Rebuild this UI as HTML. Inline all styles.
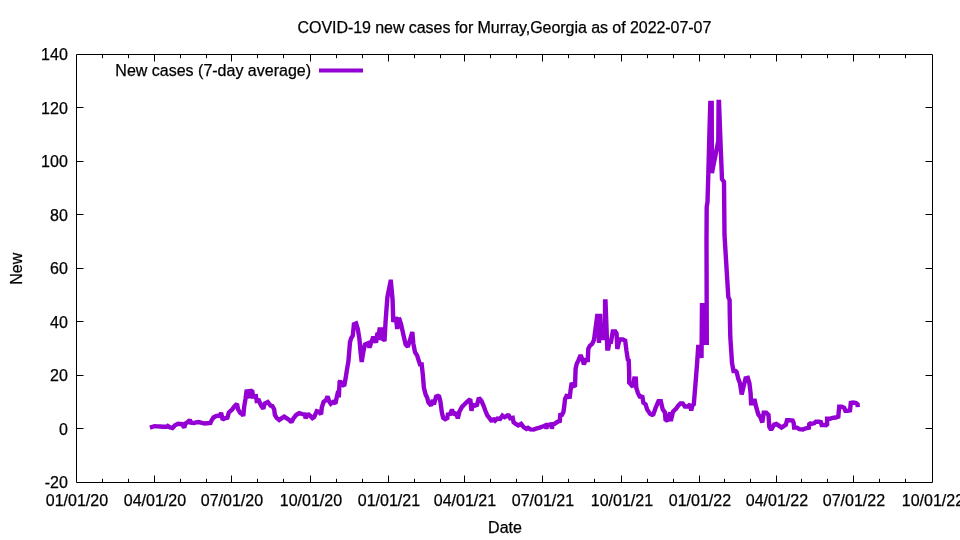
<!DOCTYPE html>
<html><head><meta charset="utf-8"><title>COVID-19 new cases for Murray,Georgia</title>
<style>html,body{margin:0;padding:0;background:#fff;width:960px;height:540px;overflow:hidden}
svg{display:block;will-change:transform}text{font-family:"Liberation Sans",Arial,sans-serif;font-size:16px;fill:#000;stroke:#000;stroke-width:0.25px}</style></head>
<body><svg width="960" height="540" viewBox="0 0 960 540">
<rect width="960" height="540" fill="#fff"/>
<path d="M76.5,107.5h7M932.5,107.5h-7M76.5,161.5h7M932.5,161.5h-7M76.5,214.5h7M932.5,214.5h-7M76.5,268.5h7M932.5,268.5h-7M76.5,321.5h7M932.5,321.5h-7M76.5,375.5h7M932.5,375.5h-7M76.5,428.5h7M932.5,428.5h-7M154.5,482.5v-7M154.5,54.5v7M231.5,482.5v-7M231.5,54.5v7M310.5,482.5v-7M310.5,54.5v7M388.5,482.5v-7M388.5,54.5v7M464.5,482.5v-7M464.5,54.5v7M542.5,482.5v-7M542.5,54.5v7M621.5,482.5v-7M621.5,54.5v7M699.5,482.5v-7M699.5,54.5v7M776.5,482.5v-7M776.5,54.5v7M853.5,482.5v-7M853.5,54.5v7M102.5,482.5v-3.7M102.5,54.5v3.7M128.5,482.5v-3.7M128.5,54.5v3.7M180.5,482.5v-3.7M180.5,54.5v3.7M206.5,482.5v-3.7M206.5,54.5v3.7M257.5,482.5v-3.7M257.5,54.5v3.7M283.5,482.5v-3.7M283.5,54.5v3.7M336.5,482.5v-3.7M336.5,54.5v3.7M362.5,482.5v-3.7M362.5,54.5v3.7M414.5,482.5v-3.7M414.5,54.5v3.7M440.5,482.5v-3.7M440.5,54.5v3.7M490.5,482.5v-3.7M490.5,54.5v3.7M516.5,482.5v-3.7M516.5,54.5v3.7M568.5,482.5v-3.7M568.5,54.5v3.7M594.5,482.5v-3.7M594.5,54.5v3.7M647.5,482.5v-3.7M647.5,54.5v3.7M673.5,482.5v-3.7M673.5,54.5v3.7M724.5,482.5v-3.7M724.5,54.5v3.7M750.5,482.5v-3.7M750.5,54.5v3.7M801.5,482.5v-3.7M801.5,54.5v3.7M827.5,482.5v-3.7M827.5,54.5v3.7M879.5,482.5v-3.7M879.5,54.5v3.7M905.5,482.5v-3.7M905.5,54.5v3.7" fill="none" stroke="#000" stroke-width="1"/>
<path d="M76.5,54.5H932.5V482.5H76.5Z" fill="none" stroke="#000" stroke-width="1"/>
<text x="67.8" y="60.2" text-anchor="end">140</text>
<text x="67.8" y="113.7" text-anchor="end">120</text>
<text x="67.8" y="167.2" text-anchor="end">100</text>
<text x="67.8" y="220.7" text-anchor="end">80</text>
<text x="67.8" y="274.2" text-anchor="end">60</text>
<text x="67.8" y="327.7" text-anchor="end">40</text>
<text x="67.8" y="381.2" text-anchor="end">20</text>
<text x="67.8" y="434.7" text-anchor="end">0</text>
<text x="67.8" y="488.2" text-anchor="end">-20</text>
<text x="76.9" y="505.5" text-anchor="middle">01/01/20</text>
<text x="154.9" y="505.5" text-anchor="middle">04/01/20</text>
<text x="231.9" y="505.5" text-anchor="middle">07/01/20</text>
<text x="310.9" y="505.5" text-anchor="middle">10/01/20</text>
<text x="388.9" y="505.5" text-anchor="middle">01/01/21</text>
<text x="464.9" y="505.5" text-anchor="middle">04/01/21</text>
<text x="542.9" y="505.5" text-anchor="middle">07/01/21</text>
<text x="621.9" y="505.5" text-anchor="middle">10/01/21</text>
<text x="699.9" y="505.5" text-anchor="middle">01/01/22</text>
<text x="776.9" y="505.5" text-anchor="middle">04/01/22</text>
<text x="853.9" y="505.5" text-anchor="middle">07/01/22</text>
<text x="932.9" y="505.5" text-anchor="middle">10/01/22</text>
<text x="504.4" y="32.7" text-anchor="middle" textLength="413.8" lengthAdjust="spacing">COVID-19 new cases for Murray,Georgia as of 2022-07-07</text>
<text x="505" y="532.9" text-anchor="middle">Date</text>
<text transform="translate(21.8,268.7) rotate(-90)" text-anchor="middle">New</text>
<text x="311" y="75.5" text-anchor="end">New cases (7-day average)</text>
<path d="M319,70.4H363" stroke="#9400d3" stroke-width="4"/>
<path d="M149.9,427.6L151.9,427.0L154.4,426.2L157.5,426.4L160.0,426.5L163.0,426.8L166.5,426.8L167.7,426.0L169.5,427.2L172.5,428.0L175.0,425.2L178.0,423.8L182.0,424.2L184.2,427.5L185.5,423.5L188.0,422.0L189.8,419.8L191.0,422.7L194.0,423.0L196.0,422.3L198.5,422.0L202.0,422.8L204.5,423.5L207.0,423.2L210.5,423.0L211.5,420.5L213.5,417.5L216.0,416.0L218.5,415.5L219.8,416.5L221.1,412.8L222.6,419.8L224.8,418.3L227.4,417.6L228.9,412.4L232.2,409.4L234.4,406.5L237.0,403.9L238.1,409.4L240.4,413.1L242.6,414.3L243.3,416.1L244.1,407.2L245.6,398.3L246.7,389.8L248.5,395.0L249.5,398.0L250.4,391.0L252.2,390.5L253.0,396.5L255.9,396.1L256.7,401.0L258.9,400.6L261.1,405.7L263.3,408.7L264.8,403.5L267.8,402.0L270.5,405.6L272.4,406.2L274.2,409.4L274.9,415.0L276.8,418.1L279.2,420.0L281.8,418.1L284.2,416.6L286.8,418.4L289.2,420.0L291.4,422.2L293.6,418.1L296.1,415.0L299.2,413.1L302.4,414.1L304.8,414.4L305.6,418.3L308.0,413.8L310.5,416.2L312.4,418.1L314.2,416.9L316.8,411.2L319.2,411.9L321.1,414.4L321.8,407.5L323.6,401.9L326.1,400.0L327.6,396.4L329.0,401.0L330.8,403.8L333.1,402.0L335.4,403.5L336.8,397.0L338.2,391.0L338.8,397.5L339.6,382.0L340.2,381.0L341.9,384.1L344.2,385.9L345.6,378.5L347.0,369.3L348.4,361.5L350.0,342.2L351.1,338.3L352.8,335.6L353.9,324.4L356.1,323.5L357.8,328.9L359.4,338.9L360.6,352.2L361.7,362.0L363.3,352.0L364.9,344.6L368.1,343.2L369.5,347.5L372.8,338.1L374.6,338.1L376.0,342.8L377.4,333.0L378.9,334.0L379.8,327.5L380.8,340.0L381.8,327.5L382.8,340.0L384.6,339.5L385.6,321.1L387.4,297.0L390.5,281.8L390.9,281.8L392.6,300.0L393.3,321.9L394.5,319.0L396.1,318.9L397.2,328.9L398.9,317.8L401.1,324.4L403.3,334.4L405.6,344.4L407.8,346.7L410.0,340.0L412.3,332.0L413.3,343.3L415.0,352.2L417.2,355.6L418.9,361.1L420.0,364.4L421.7,364.4L422.8,374.4L423.9,387.8L425.6,394.4L427.2,397.8L428.3,402.2L431.1,405.6L432.8,400.0L433.9,404.4L436.1,396.7L438.9,395.6L440.4,401.5L441.9,412.7L443.2,417.9L445.2,419.2L447.3,418.0L448.1,413.0L449.7,415.3L452.0,409.5L453.6,414.6L456.2,412.7L457.8,418.5L459.5,411.4L462.0,406.9L464.6,404.3L467.2,401.7L470.3,399.1L471.5,410.8L472.4,404.9L475.0,405.6L477.0,404.9L478.9,397.8L481.5,401.0L483.5,405.6L485.4,410.8L487.3,415.3L489.3,417.9L491.9,421.5L493.3,418.5L495.2,420.6L497.4,418.5L500.2,418.9L502.4,415.6L504.7,417.2L506.9,416.0L508.3,414.6L510.2,418.3L512.7,417.8L513.6,422.2L515.8,423.9L518.3,425.4L521.1,423.9L523.6,427.2L526.3,428.9L528.0,427.8L530.2,429.4L533.6,429.6L536.0,428.7L539.7,427.6L543.4,426.3L545.8,425.2L546.4,429.0L547.0,425.0L549.0,425.0L551.2,424.0L551.9,428.8L552.6,424.2L554.5,423.9L556.7,422.4L558.5,421.3L559.8,421.0L560.3,415.0L562.0,414.8L563.4,412.0L564.3,405.9L565.0,399.0L566.5,396.0L568.8,396.3L569.6,398.5L570.6,390.0L571.7,382.8L573.3,385.6L575.0,386.7L575.6,368.9L576.7,363.9L578.3,360.6L580.6,355.0L582.2,358.9L583.9,364.4L585.6,360.0L587.8,360.0L588.3,348.9L590.0,345.6L592.2,343.9L594.0,340.0L597.2,316.0L598.2,316.0L599.0,343.0L599.9,316.0L600.2,316.0L601.2,338.0L604.9,338.0L605.1,301.5L605.5,301.5L607.3,348.5L608.3,348.5L609.3,342.5L611.0,342.0L612.8,331.5L615.3,331.5L616.6,333.5L617.3,349.0L619.5,339.5L623.0,339.5L625.2,340.6L626.5,351.0L627.8,359.5L628.7,360.3L629.2,373.5L629.2,382.7L631.2,384.7L632.8,386.8L634.3,378.5L635.8,378.6L636.3,387.8L637.9,392.9L639.4,395.9L640.4,397.6L642.2,395.5L643.4,402.8L645.6,404.3L647.1,409.4L650.1,413.9L653.0,415.4L655.3,408.7L657.5,403.5L658.5,401.3L660.8,401.3L662.7,409.4L664.9,412.4L665.6,420.6L667.9,419.8L670.1,412.4L670.8,421.0L673.0,411.7L676.0,408.7L678.2,405.7L680.4,403.5L682.7,403.5L684.9,406.5L687.9,406.5L690.1,404.3L691.2,410.5L692.3,405.7L693.8,404.3L694.8,392.0L695.8,380.0L697.2,362.0L698.2,347.0L700.8,347.0L701.5,358.0L702.0,303.0L703.0,345.0L704.0,303.0L705.0,345.0L706.0,303.0L706.8,345.0L706.5,240.0L706.7,207.0L707.5,202.0L708.3,175.0L709.5,130.0L710.3,103.0L711.7,103.0L711.9,173.0L718.3,141.0L718.6,102.0L719.0,102.0L720.8,150.0L722.0,179.0L724.0,182.0L724.5,235.0L728.3,297.0L729.6,300.0L729.8,315.0L730.3,337.0L732.0,363.0L733.5,371.0L735.5,371.0L736.7,372.2L738.3,378.9L740.0,383.3L741.7,394.4L743.3,387.8L745.6,378.3L747.8,377.8L749.4,383.3L750.6,393.3L751.1,403.3L753.3,403.3L754.4,398.9L756.1,406.7L758.3,414.4L760.3,417.0L762.3,422.5L763.7,412.8L766.3,412.8L768.5,415.0L769.3,426.9L771.1,429.8L774.1,424.6L776.3,423.9L778.5,425.4L781.5,427.6L783.7,426.1L785.9,424.6L787.0,420.2L789.6,420.2L792.6,420.6L793.7,423.1L794.1,427.6L797.0,427.6L799.3,429.1L803.0,429.4L805.9,428.3L808.9,427.6L809.3,423.1L811.7,423.8L814.2,423.3L815.8,421.7L819.2,421.7L820.8,422.1L821.7,425.0L825.0,425.0L827.1,425.4L827.1,418.8L830.0,418.8L832.5,417.9L835.8,417.5L838.3,416.7L839.2,406.7L841.7,406.7L844.2,407.9L845.4,410.8L847.5,410.8L850.0,410.4L850.8,402.9L853.3,402.5L856.0,403.0L857.6,404.3L857.8,407.2" fill="none" stroke="#9400d3" stroke-width="4.4" stroke-linejoin="miter" stroke-miterlimit="1.5" stroke-linecap="butt"/>
</svg></body></html>
